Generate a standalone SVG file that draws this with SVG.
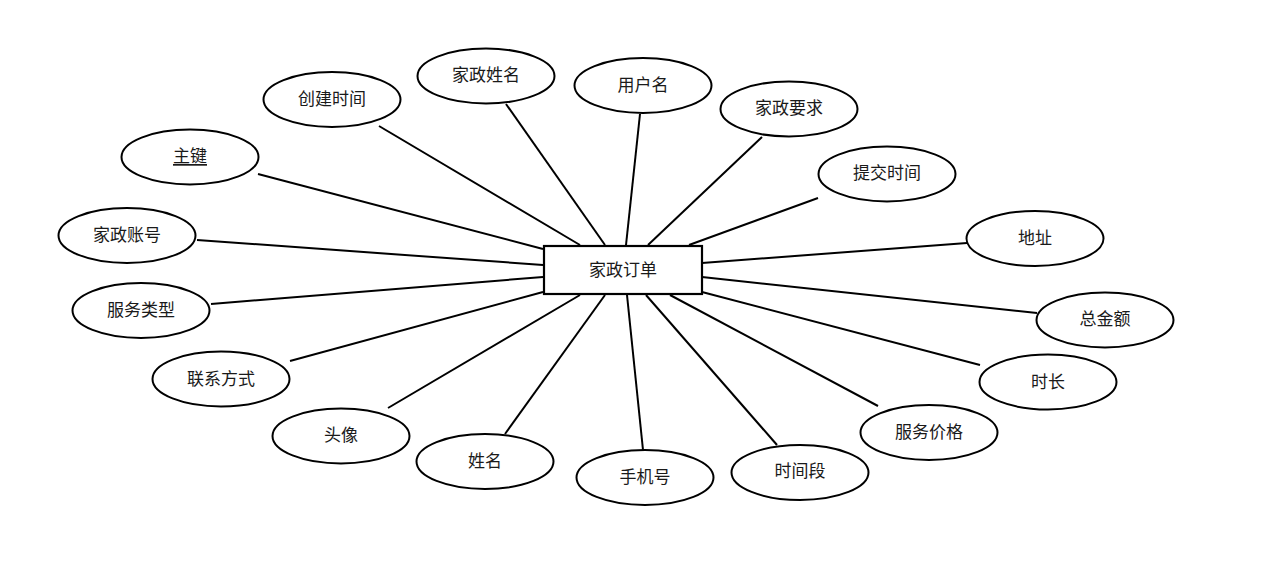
<svg xmlns="http://www.w3.org/2000/svg" width="1280" height="565" viewBox="0 0 1280 565">
<style>
.attr ellipse{fill:#fff;stroke:#000;stroke-width:2}
.ent rect{fill:#fff;stroke:#000;stroke-width:2.2}
text{font-family:"Noto Sans CJK SC","Noto Sans",sans-serif;font-size:17px;fill:#1a1a1a;text-anchor:middle;dominant-baseline:central}
.links line{stroke:#000;stroke-width:2}
</style>
<rect width="1280" height="565" fill="#fff"/>
<g class="links">
<line x1="379" y1="126" x2="580" y2="245"/>
<line x1="258" y1="174" x2="543" y2="249"/>
<line x1="197" y1="240" x2="543" y2="265"/>
<line x1="211" y1="304" x2="543" y2="277"/>
<line x1="290" y1="361" x2="543" y2="292"/>
<line x1="388" y1="408" x2="580" y2="295"/>
<line x1="505" y1="434" x2="605" y2="295"/>
<line x1="643" y1="450" x2="627" y2="295"/>
<line x1="777" y1="445" x2="646" y2="295"/>
<line x1="878" y1="406" x2="670" y2="295"/>
<line x1="980" y1="365" x2="702" y2="292"/>
<line x1="1037" y1="313" x2="702" y2="277"/>
<line x1="967" y1="243" x2="702" y2="263"/>
<line x1="818" y1="198" x2="689" y2="245"/>
<line x1="762" y1="137" x2="648" y2="245"/>
<line x1="640" y1="114" x2="626" y2="245"/>
<line x1="506" y1="104" x2="605" y2="245"/>
</g>
<g id="order" class="ent"><rect x="544" y="246" width="158" height="48"/><text x="623" y="268.5">家政订单</text></g>
<g id="a-created" class="attr"><ellipse cx="332" cy="99.5" rx="68.5" ry="27.5"/><text x="332" y="97.5">创建时间</text></g>
<g id="a-pk" class="attr"><ellipse cx="190" cy="157" rx="68.5" ry="27.5"/><text x="190" y="154.5" text-decoration="underline">主键</text></g>
<g id="a-account" class="attr"><ellipse cx="127" cy="235.5" rx="68.5" ry="27.5"/><text x="127" y="233.5">家政账号</text></g>
<g id="a-servtype" class="attr"><ellipse cx="141" cy="310.5" rx="68.5" ry="27.5"/><text x="141" y="308.5">服务类型</text></g>
<g id="a-contact" class="attr"><ellipse cx="221" cy="379" rx="68.5" ry="27.5"/><text x="221" y="377.5">联系方式</text></g>
<g id="a-avatar" class="attr"><ellipse cx="341" cy="436" rx="68.5" ry="27.5"/><text x="341" y="433.5">头像</text></g>
<g id="a-name" class="attr"><ellipse cx="485" cy="461.5" rx="68.5" ry="27.5"/><text x="485" y="459.5">姓名</text></g>
<g id="a-phone" class="attr"><ellipse cx="645" cy="477.5" rx="68.5" ry="27.5"/><text x="645" y="475.5">手机号</text></g>
<g id="a-period" class="attr"><ellipse cx="800" cy="472.5" rx="68.5" ry="27.5"/><text x="800" y="469.5">时间段</text></g>
<g id="a-price" class="attr"><ellipse cx="929" cy="432.5" rx="68.5" ry="27.5"/><text x="929" y="430.5">服务价格</text></g>
<g id="a-duration" class="attr"><ellipse cx="1048" cy="382" rx="68.5" ry="27.5"/><text x="1048" y="380.5">时长</text></g>
<g id="a-total" class="attr"><ellipse cx="1105" cy="320" rx="68.5" ry="27.5"/><text x="1105" y="317.5">总金额</text></g>
<g id="a-address" class="attr"><ellipse cx="1035" cy="238.5" rx="68.5" ry="27.5"/><text x="1035" y="236.5">地址</text></g>
<g id="a-submit" class="attr"><ellipse cx="887" cy="174" rx="68.5" ry="27.5"/><text x="887" y="171.5">提交时间</text></g>
<g id="a-req" class="attr"><ellipse cx="789" cy="109" rx="68.5" ry="27.5"/><text x="789" y="106.5">家政要求</text></g>
<g id="a-user" class="attr"><ellipse cx="643" cy="85.5" rx="68.5" ry="27.5"/><text x="643" y="83.5">用户名</text></g>
<g id="a-hkname" class="attr"><ellipse cx="486" cy="76" rx="68.5" ry="27.5"/><text x="486" y="73.5">家政姓名</text></g>
</svg>
